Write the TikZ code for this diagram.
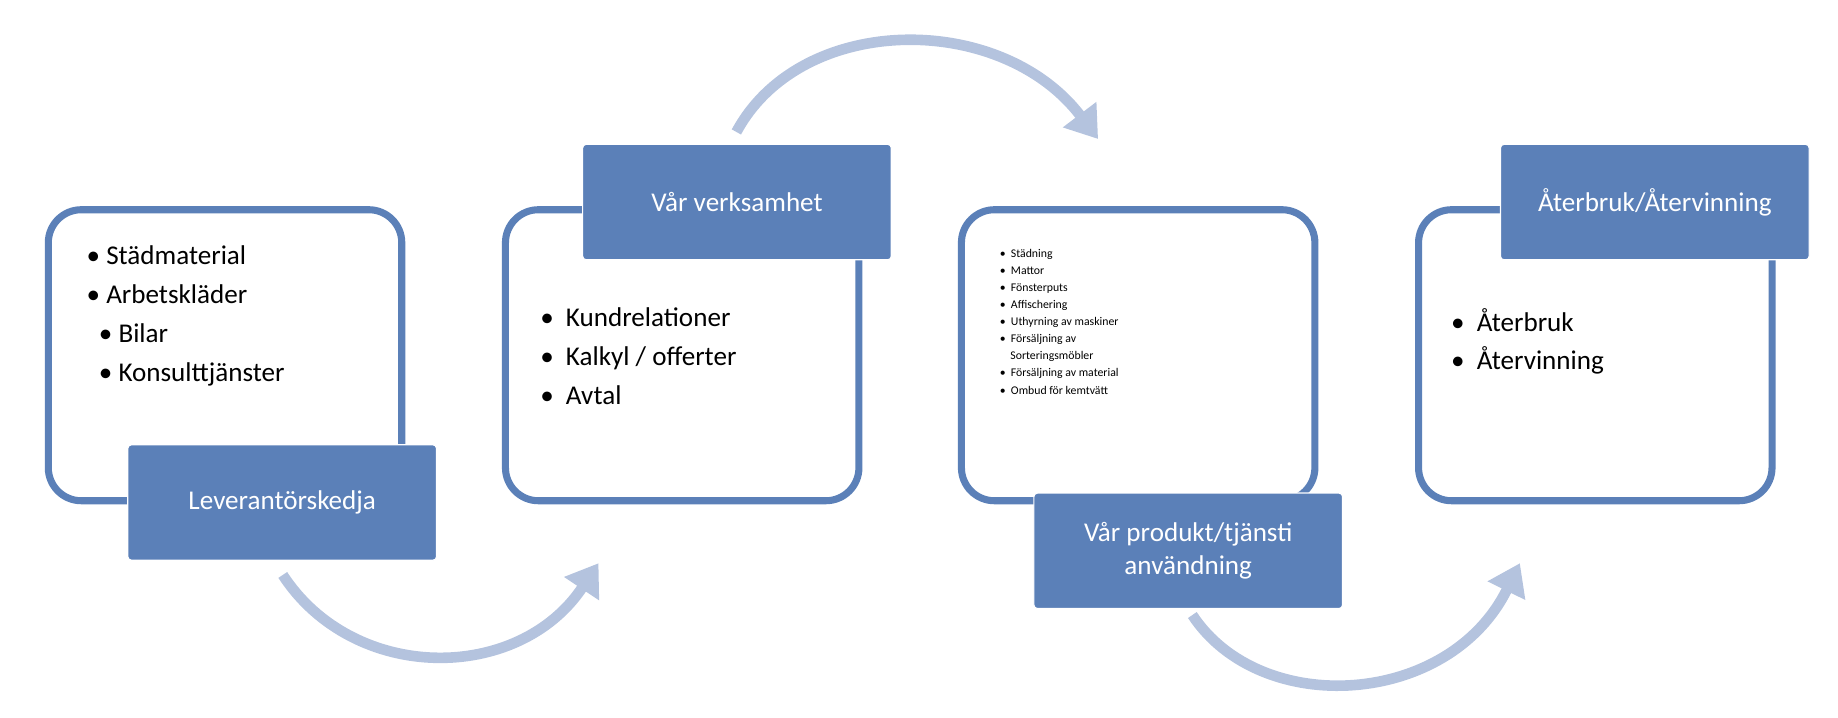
\documentclass[tikz,border=0pt]{standalone}
\usepackage{fontspec}
\setmainfont{Carlito}
\usetikzlibrary{arrows.meta}
\definecolor{bdr}{HTML}{5B80B8}
\definecolor{arc}{HTML}{B4C3DE}
\begin{document}
\begin{tikzpicture}[x=1pt,y=-1pt,
 frame/.style={draw=bdr,line width=6pt,rounded corners=28pt,fill=white,minimum width=300pt,minimum height=247pt,anchor=north west},
 lab/.style={fill=bdr,draw=white,line width=1pt,rounded corners=3pt,text=white,font=\fontsize{23}{28}\selectfont,minimum width=262pt,minimum height=98pt,anchor=north west,align=center},
 lst/.style={font=\fontsize{23}{33}\selectfont,align=left,anchor=north west},
 flow/.style={draw=arc,line width=9pt,-{Triangle[length=26pt,width=34pt]}}]
\useasboundingbox (0,0) rectangle (1560,609);
\node[frame] (b1) at (38,175) {};
\node[frame] (b2) at (426,175) {};
\node[frame] (b3) at (813,175) {};
\node[frame] (b4) at (1201,175) {};
\node[lab] (l1) at (108,377) {Leverantörskedja};
\node[lab] (l2) at (494,122) {Vår verksamhet};
\node[lab] (l3) at (877,418) {Vår produkt/tjänsti\\användning};
\node[lab] (l4) at (1273,122) {Återbruk/Återvinning};
\node[lst] (t1) at (70,205) {• Städmaterial\\• Arbetskläder\\\ \ • Bilar\\\ \ • Konsulttjänster};
\node[lst] (t2) at (455,258) {• \ Kundrelationer\\• \ Kalkyl / offerter\\• \ Avtal};
\node[lst,font=\fontsize{10}{14.5}\selectfont] (t3) at (845,208) {• \ Städning\\• \ Mattor\\• \ Fönsterputs\\• \ Affischering\\• \ Uthyrning av maskiner\\• \ Försäljning av\\\ \ \ \ Sorteringsmöbler\\• \ Försäljning av material\\• \ Ombud för kemtvätt};
\node[lst] (t4) at (1228,258) {• \ Återbruk\\• \ Återvinning};
\coordinate (a1s) at (240,488); \coordinate (a1e) at (508,478);
\coordinate (a2s) at (625,112); \coordinate (a2e) at (932,118);
\coordinate (a3s) at (1012,522); \coordinate (a3e) at (1290,478);
\draw[flow] (a1s) .. controls (300,580) and (440,580) .. (a1e);
\draw[flow] (a2s) .. controls (680,10) and (850,10) .. (a2e);
\draw[flow] (a3s) .. controls (1070,610) and (1230,600) .. (a3e);
\end{tikzpicture}
\end{document}
